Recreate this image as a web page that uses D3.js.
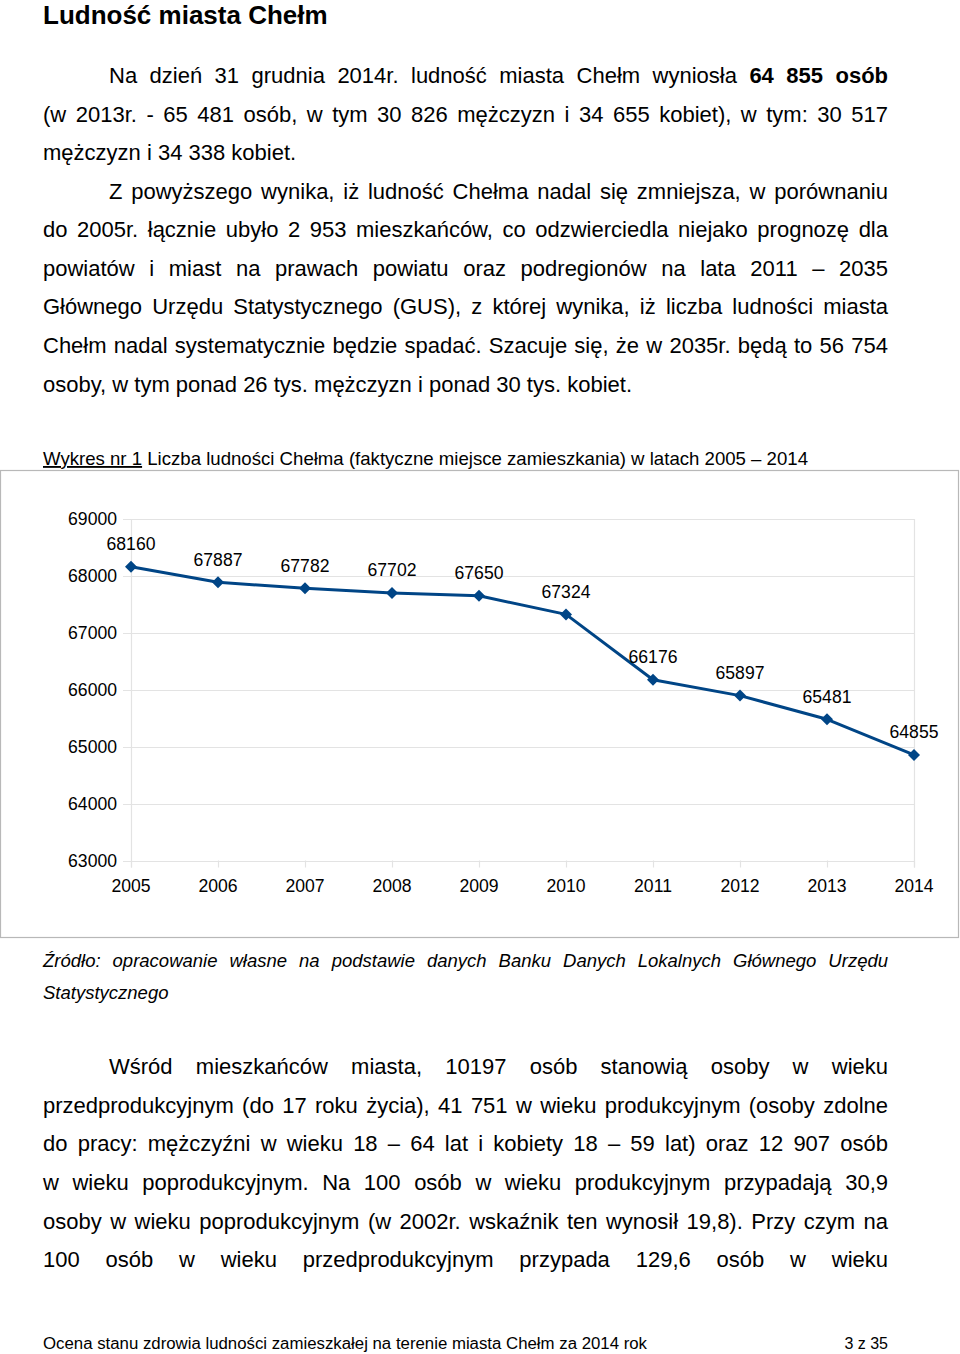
<!DOCTYPE html>
<html><head><meta charset="utf-8">
<script src="https://cdn.jsdelivr.net/npm/d3@7"></script>
<style>
html,body{margin:0;padding:0;background:#fff;}
svg{display:block;}
text{font-family:"Liberation Sans",Arial,sans-serif;fill:#000;}
</style></head>
<body>
<svg id="page" width="960" height="1354"></svg>
<script>
// ---- chart data ----
const years = ["2005","2006","2007","2008","2009","2010","2011","2012","2013","2014"];
const population = [68160, 67887, 67782, 67702, 67650, 67324, 66176, 65897, 65481, 64855];
const yTicks = [63000, 64000, 65000, 66000, 67000, 68000, 69000];

// ---- page texts ----
const titleText = "Ludność miasta Chełm";
const para1 = [
  {y:83, x:109, j:true, parts:[["Na dzień 31 grudnia 2014r. ludność miasta Chełm wyniosła ",0],["64 855 osób",1]]},
  {y:121.5, x:43, j:true, parts:[["(w 2013r. - 65 481 osób, w tym 30 826 mężczyzn i 34 655 kobiet), w tym: 30 517",0]]},
  {y:160, x:43, j:false, parts:[["mężczyzn i 34 338 kobiet.",0]]},
  {y:198.6, x:109, j:true, parts:[["Z powyższego wynika, iż ludność Chełma nadal się zmniejsza, w porównaniu",0]]},
  {y:237.2, x:43, j:true, parts:[["do 2005r. łącznie ubyło 2 953 mieszkańców, co odzwierciedla niejako prognozę dla",0]]},
  {y:275.8, x:43, j:true, parts:[["powiatów i miast na prawach powiatu oraz podregionów na lata 2011 – 2035",0]]},
  {y:314.4, x:43, j:true, parts:[["Głównego Urzędu Statystycznego (GUS), z której wynika, iż liczba ludności miasta",0]]},
  {y:353, x:43, j:true, parts:[["Chełm nadal systematycznie będzie spadać. Szacuje się, że w 2035r. będą to 56 754",0]]},
  {y:391.6, x:43, j:false, parts:[["osoby, w tym ponad 26 tys. mężczyzn i ponad 30 tys. kobiet.",0]]}
];
const sourceLines = [
  {y:967, x:43, j:true, parts:[["Źródło: opracowanie własne na podstawie danych Banku Danych Lokalnych Głównego Urzędu",0]]},
  {y:999, x:43, j:false, parts:[["Statystycznego",0]]}
];
const para3 = [
  {y:1074, x:109, j:true, parts:[["Wśród mieszkańców miasta, 10197 osób stanowią osoby w wieku",0]]},
  {y:1113, x:43, j:true, parts:[["przedprodukcyjnym (do 17 roku życia), 41 751 w wieku produkcyjnym (osoby zdolne",0]]},
  {y:1151, x:43, j:true, parts:[["do pracy: mężczyźni w wieku 18 – 64 lat i kobiety 18 – 59 lat) oraz 12 907 osób",0]]},
  {y:1190, x:43, j:true, parts:[["w wieku poprodukcyjnym. Na 100 osób w wieku produkcyjnym przypadają 30,9",0]]},
  {y:1229, x:43, j:true, parts:[["osoby w wieku poprodukcyjnym (w 2002r. wskaźnik ten wynosił 19,8). Przy czym na",0]]},
  {y:1267, x:43, j:true, parts:[["100 osób w wieku przedprodukcyjnym przypada 129,6 osób w wieku",0]]}
];
const footerText = "Ocena stanu zdrowia ludności zamieszkałej na terenie miasta Chełm za 2014 rok";
const pageNo = "3 z 35";

const svg = d3.select("#page");
const RIGHT = 888;

function drawLines(lines, size, italic){
  lines.forEach(L => {
    const t = svg.append("text").attr("x", L.x).attr("y", L.y)
      .style("font-size", size + "px")
      .style("font-style", italic ? "italic" : "normal");
    L.parts.forEach(p => {
      t.append("tspan").text(p[0]).style("font-weight", p[1] ? "bold" : "normal");
    });
    if (L.j) {
      const full = L.parts.map(p => p[0]).join("");
      const n = (full.match(/ /g) || []).length;
      const len = t.node().getComputedTextLength();
      const ws = (RIGHT - L.x - len) / n;
      t.style("word-spacing", ws + "px");
    }
  });
}

// title
svg.append("text").attr("x", 43).attr("y", 23.8)
  .style("font-size", "26px").style("font-weight", "bold").text(titleText);

drawLines(para1, 22, false);

// caption
const cap = svg.append("text").attr("x", 43).attr("y", 465).style("font-size", "18.5px")
  .attr("textLength", 765).attr("lengthAdjust", "spacingAndGlyphs");
cap.append("tspan").text("Wykres nr 1").style("text-decoration", "underline");
cap.append("tspan").text(" Liczba ludności Chełma (faktyczne miejsce zamieszkania) w latach 2005 – 2014");

// chart frame
svg.append("rect").attr("x", 0.5).attr("y", 470.5).attr("width", 958).attr("height", 467)
  .attr("fill", "#fff").attr("stroke", "#b8b8b8").attr("stroke-width", 1.2);

const x = d3.scalePoint().domain(years).range([131, 914]);
const y = d3.scaleLinear().domain([63000, 69000]).range([860.5, 519]);
const g = svg.append("g");
const grid = "#e3e3e3";

// horizontal gridlines
g.selectAll("line.h").data(yTicks).join("line")
  .attr("x1", 123).attr("x2", 914)
  .attr("y1", d => Math.round(y(d)) + 0.5).attr("y2", d => Math.round(y(d)) + 0.5)
  .attr("stroke", grid).attr("stroke-width", 1.2);
// left and right plot borders
[131, 914].forEach(xx => g.append("line").attr("x1", xx + 0.5).attr("x2", xx + 0.5)
  .attr("y1", y(69000)).attr("y2", y(63000) + 7).attr("stroke", grid).attr("stroke-width", 1.2));
// x ticks
g.selectAll("line.xt").data(years).join("line")
  .attr("x1", d => Math.round(x(d)) + 0.5).attr("x2", d => Math.round(x(d)) + 0.5)
  .attr("y1", y(63000)).attr("y2", y(63000) + 7)
  .attr("stroke", grid).attr("stroke-width", 1.2);

// y labels
g.selectAll("text.yl").data(yTicks).join("text")
  .attr("x", 117).attr("y", d => y(d) + 6.3).attr("text-anchor", "end")
  .style("font-size", "17.6px").text(d => d);
// x labels
g.selectAll("text.xl").data(years).join("text")
  .attr("x", d => x(d)).attr("y", 891.5).attr("text-anchor", "middle")
  .style("font-size", "17.6px").text(d => d);

// line
const pts = years.map((yr, i) => ({yr, v: population[i]}));
g.append("path").datum(pts)
  .attr("d", d3.line().x(d => x(d.yr)).y(d => y(d.v)))
  .attr("fill", "none").attr("stroke", "#004586").attr("stroke-width", 3)
  .attr("stroke-linejoin", "round");
// markers
g.selectAll("path.m").data(pts).join("path")
  .attr("transform", d => `translate(${x(d.yr)},${y(d.v)})`)
  .attr("d", "M0,-6L6,0L0,6L-6,0Z").attr("fill", "#004586");
// data labels
g.selectAll("text.dl").data(pts).join("text")
  .attr("x", d => x(d.yr)).attr("y", d => y(d.v) - 16.5).attr("text-anchor", "middle")
  .style("font-size", "17.6px").text(d => d.v);

drawLines(sourceLines, 18.5, true);
drawLines(para3, 22, false);

// footer
svg.append("text").attr("x", 43).attr("y", 1349).style("font-size", "16px")
  .attr("textLength", 604).attr("lengthAdjust", "spacingAndGlyphs").text(footerText);
svg.append("text").attr("x", 888).attr("y", 1349).attr("text-anchor", "end")
  .style("font-size", "16px").text(pageNo);
</script>
</body></html>
